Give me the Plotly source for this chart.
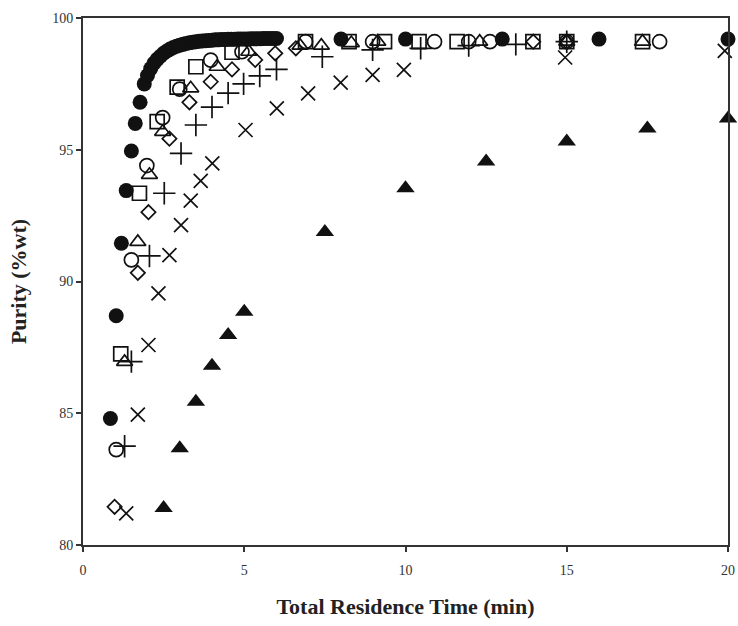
import plotly.graph_objects as go

# Residence time (min) and purity (%wt) for each run
t_fill_circle = [0.85, 1.03, 1.19, 1.34, 1.50, 1.62, 1.77,
                 1.9, 2.0, 2.1, 2.2, 2.3, 2.4, 2.5, 2.6, 2.7, 2.8, 2.9, 3.0,
                 3.1, 3.2, 3.3, 3.4, 3.5, 3.6, 3.7, 3.8, 3.9, 4.0,
                 4.1, 4.2, 4.3, 4.4, 4.5, 4.6, 4.7, 4.8, 4.9, 5.0,
                 5.1, 5.2, 5.3, 5.4, 5.5, 5.6, 5.7, 5.8, 5.9, 6.0,
                 8.0, 10.0, 13.0, 16.0, 20.0]
p_fill_circle = [84.8, 88.7, 91.45, 93.45, 94.95, 96.0, 96.8,
                 97.5, 97.82, 98.08, 98.28, 98.43, 98.55, 98.66, 98.75, 98.82, 98.88, 98.93, 98.97,
                 99.0, 99.03, 99.06, 99.08, 99.1, 99.12, 99.13, 99.14, 99.15, 99.16,
                 99.17, 99.17, 99.18, 99.18, 99.19, 99.19, 99.19, 99.2, 99.2, 99.2,
                 99.2, 99.21, 99.21, 99.21, 99.21, 99.22, 99.22, 99.22, 99.22, 99.22,
                 99.2, 99.2, 99.2, 99.2, 99.2]

t_open_square = [1.17, 1.75, 2.30, 2.92, 3.50, 4.62, 6.9, 8.25, 9.35, 10.42, 11.6, 13.95, 15.0, 17.35]
p_open_square = [87.25, 93.35, 96.07, 97.38, 98.15, 98.7, 99.1, 99.1, 99.1, 99.1, 99.1, 99.1, 99.1, 99.1]

t_open_circle = [1.03, 1.50, 1.98, 2.47, 3.0, 3.96, 4.93, 6.9, 8.98, 10.9, 11.96, 12.62, 15.0, 17.88]
p_open_circle = [83.62, 90.82, 94.4, 96.22, 97.3, 98.4, 98.72, 99.1, 99.1, 99.1, 99.1, 99.1, 99.1, 99.1]

t_open_triangle = [1.29, 1.70, 2.06, 2.47, 3.34, 4.16, 5.14, 6.73, 7.39, 8.32, 9.14, 12.3, 15.0, 17.35]
p_open_triangle = [86.95, 91.5, 94.05, 95.68, 97.33, 98.15, 98.72, 98.95, 98.95, 99.05, 99.1, 99.1, 99.1, 99.1]

t_diamond = [0.98, 1.70, 2.03, 2.68, 3.30, 3.96, 4.62, 5.34, 5.96, 6.6, 13.96, 15.0]
p_diamond = [81.45, 90.33, 92.63, 95.42, 96.8, 97.58, 98.05, 98.41, 98.66, 98.85, 99.1, 99.1]

t_plus = [1.29, 1.50, 2.06, 2.52, 3.04, 3.50, 4.0, 4.5, 4.98, 5.48, 6.0, 7.42, 8.98, 10.47, 11.96, 13.42, 15.0]
p_plus = [83.75, 86.96, 90.97, 93.35, 94.86, 95.94, 96.62, 97.15, 97.5, 97.8, 98.05, 98.53, 98.79, 98.85, 98.95, 99.0, 99.1]

t_cross = [1.34, 1.70, 2.03, 2.34, 2.68, 3.04, 3.34, 3.65, 4.01, 5.04, 6.01, 6.98, 7.99, 8.98, 9.95, 14.95, 19.9]
p_cross = [81.2, 84.95, 87.59, 89.55, 91.0, 92.14, 93.07, 93.82, 94.48, 95.75, 96.57, 97.14, 97.55, 97.84, 98.03, 98.5, 98.75]

t_fill_triangle = [2.5, 3.0, 3.5, 4.0, 4.5, 5.0, 7.5, 10.0, 12.5, 15.0, 17.5, 20.0]
p_fill_triangle = [81.4, 83.67, 85.44, 86.8, 87.97, 88.85, 91.88, 93.54, 94.55, 95.31, 95.81, 96.19]

x_ticks = [0, 5, 10, 15, 20]
y_ticks = [80, 85, 90, 95, 100]

INK = "#111111"
SERIF = "Liberation Serif, Times New Roman, serif"

series = [
    (t_diamond, p_diamond, dict(symbol="diamond-open", size=11)),
    (t_open_triangle, p_open_triangle, dict(symbol="triangle-up-open", size=14)),
    (t_open_circle, p_open_circle, dict(symbol="circle-open", size=14)),
    (t_open_square, p_open_square, dict(symbol="square-open", size=14)),
    (t_plus, p_plus, dict(symbol="cross-thin", size=16)),
    (t_cross, p_cross, dict(symbol="x-thin", size=14)),
    (t_fill_triangle, p_fill_triangle, dict(symbol="triangle-up", size=16)),
    (t_fill_circle, p_fill_circle, dict(symbol="circle", size=15)),
]

fig = go.Figure()
for xs, ys, mk in series:
    filled = mk["symbol"] in ("circle", "triangle-up")
    fig.add_trace(go.Scatter(
        x=xs, y=ys, mode="markers",
        marker=dict(color=INK, line=dict(color=INK, width=0 if filled else 1.7), **mk),
        cliponaxis=False, showlegend=False))

axis_common = dict(
    showgrid=False, zeroline=False,
    showline=True, linecolor="#333333", linewidth=2, mirror=True,
    ticks="outside", ticklen=5, tickwidth=1.5, tickcolor="#333333",
    tickfont=dict(family=SERIF, size=14, color="#333333"),
    ticklabeloverflow="allow",
)

fig.update_xaxes(range=[0, 20], tickvals=x_ticks, ticktext=[str(v) for v in x_ticks],
                 ticklabelstandoff=6,
                 title=dict(text="<b>Total Residence Time (min)</b>",
                            font=dict(family=SERIF, size=22, color="#222222"), standoff=22),
                 **axis_common)
fig.update_yaxes(range=[80, 100], tickvals=y_ticks, ticktext=[str(v) for v in y_ticks],
                 title=dict(text="<b>Purity (%wt)</b>",
                            font=dict(family=SERIF, size=22, color="#222222"), standoff=20),
                 **axis_common)

fig.update_layout(
    width=738, height=626,
    margin=dict(l=83, r=10, t=18, b=81, autoexpand=False),
    paper_bgcolor="white", plot_bgcolor="white",
)

fig.write_html("out.html")
